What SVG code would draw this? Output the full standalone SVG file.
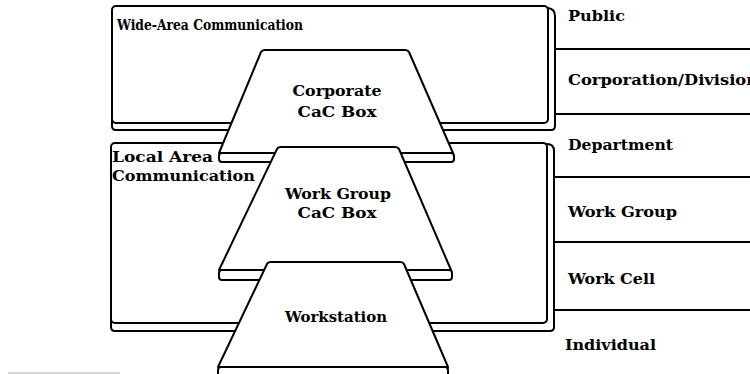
<svg xmlns="http://www.w3.org/2000/svg" width="750" height="374" viewBox="0 0 750 374">
  <style>
    .ln { fill: none; stroke: #000; stroke-width: 2; stroke-linejoin: round; stroke-linecap: round; }
    .face { fill: #fff; stroke: #000; stroke-width: 2; stroke-linejoin: round; }
    .lbl { font-family: "DejaVu Serif", "Liberation Serif", serif; font-weight: bold; font-size: 15px; fill: #000; }
    .mid { text-anchor: middle; }
  </style>
  <rect width="750" height="374" fill="#fff"/>

  <!-- organisational levels on the right -->
  <g id="connectors">
    <line class="ln" x1="555" y1="49" x2="750" y2="49"/>
    <line class="ln" x1="555" y1="114" x2="750" y2="114"/>
    <line class="ln" x1="554" y1="177" x2="750" y2="177"/>
    <line class="ln" x1="554" y1="242" x2="750" y2="242"/>
    <line class="ln" x1="554" y1="310" x2="750" y2="310"/>
    <line x1="8" y1="373" x2="120" y2="373" stroke="#c8c8c8" stroke-width="1.5"/>
  </g>

  <g id="levels">
    <text class="lbl" x="568" y="21" textLength="57" lengthAdjust="spacingAndGlyphs">Public</text>
    <text class="lbl" x="568" y="85" textLength="190" lengthAdjust="spacingAndGlyphs">Corporation/Division</text>
    <text class="lbl" x="568" y="150" textLength="105" lengthAdjust="spacingAndGlyphs">Department</text>
    <text class="lbl" x="568" y="217" textLength="109" lengthAdjust="spacingAndGlyphs">Work Group</text>
    <text class="lbl" x="568" y="284" textLength="87" lengthAdjust="spacingAndGlyphs">Work Cell</text>
    <text class="lbl" x="565" y="350" textLength="91" lengthAdjust="spacingAndGlyphs">Individual</text>
  </g>

  <!-- wide-area slab -->
  <g id="wide-area">
    <path class="ln" d="M112,116 V126 Q112,130 116,130 H551 Q555,130 555,126 V16 Q555,9 548,8"/>
    <rect class="face" x="112" y="6" width="436" height="117" rx="4"/>
    <text class="lbl" x="117" y="30" textLength="186" lengthAdjust="spacingAndGlyphs">Wide-Area Communication</text>
  </g>

  <!-- local-area slab -->
  <g id="local-area">
    <path class="ln" d="M111,318 V327 Q111,331 115,331 H550 Q554,331 554,327 V151 Q554,144 547,144"/>
    <rect class="face" x="111" y="143" width="436" height="180" rx="4"/>
    <text class="lbl" x="112" y="162" textLength="101" lengthAdjust="spacingAndGlyphs">Local Area</text>
    <text class="lbl" x="112" y="181" textLength="143" lengthAdjust="spacingAndGlyphs">Communication</text>
  </g>

  <!-- corporate box -->
  <g id="corporate">
    <rect class="face" x="219" y="153" width="235" height="9" rx="3"/>
    <path class="face" d="M219,153 L261,52 Q262,50 265,50 H405 Q408,50 409,52 L453,153 Z"/>
    <text class="lbl mid" x="337" y="96" textLength="89" lengthAdjust="spacingAndGlyphs">Corporate</text>
    <text class="lbl mid" x="337" y="117" textLength="79" lengthAdjust="spacingAndGlyphs">CaC Box</text>
  </g>

  <!-- work group box -->
  <g id="work-group">
    <rect class="face" x="219" y="270" width="233" height="10" rx="3"/>
    <path class="face" d="M219,270 L277,149 Q278,147 281,147 H395 Q398,147 399,149 L451,270 Z"/>
    <text class="lbl mid" x="338" y="199" textLength="106" lengthAdjust="spacingAndGlyphs">Work Group</text>
    <text class="lbl mid" x="337" y="218" textLength="79" lengthAdjust="spacingAndGlyphs">CaC Box</text>
  </g>

  <!-- workstation -->
  <g id="workstation">
    <rect class="face" x="218" y="367" width="230" height="16" rx="3"/>
    <path class="face" d="M218,367 L267,264 Q268,262 271,262 H400 Q403,262 404,264 L448,367 Z"/>
    <text class="lbl mid" x="336" y="322" textLength="102" lengthAdjust="spacingAndGlyphs">Workstation</text>
  </g>
</svg>
